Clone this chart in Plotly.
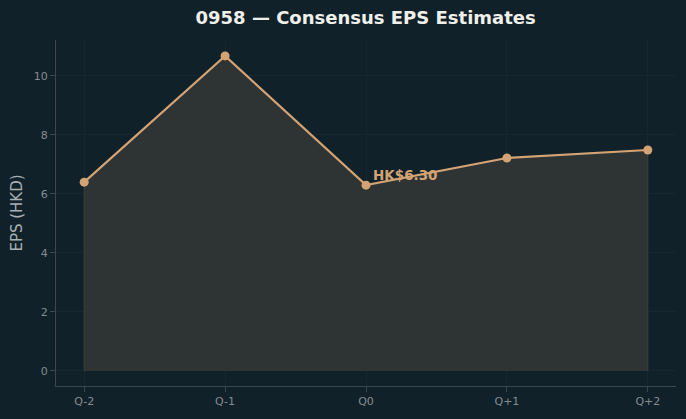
import plotly.graph_objects as go

quarters = ["Q-2", "Q-1", "Q0", "Q+1", "Q+2"]
eps = [6.40, 10.68, 6.30, 7.22, 7.49]
yticks = [0, 2, 4, 6, 8, 10]
highlight_idx = 2

BG = "#10212a"
LINE = "#d4a373"
FILL = "#2e3333"
GRID = "#16272f"
SPINE = "#3b474c"
TICK = "#858d91"

xi = list(range(len(quarters)))
fig = go.Figure()
fig.add_trace(go.Scatter(
    x=[xi[0]] + xi + [xi[-1]], y=[0] + eps + [0],
    fill="toself", fillcolor=FILL, mode="lines",
    line=dict(color="#3c4038", width=1), hoverinfo="skip", showlegend=False))
fig.add_trace(go.Scatter(
    x=xi, y=eps, mode="lines+markers",
    line=dict(color=LINE, width=2.2), marker=dict(color=LINE, size=9),
    showlegend=False))
fig.add_annotation(
    x=xi[highlight_idx], y=eps[highlight_idx],
    text=f"HK${eps[highlight_idx]:.2f}", showarrow=False,
    xanchor="left", yanchor="bottom", xshift=5, yshift=0,
    font=dict(family="DejaVu Sans", size=13.5, color=LINE, weight="bold"))

fig.update_layout(
    width=686, height=419,
    paper_bgcolor=BG, plot_bgcolor=BG,
    margin=dict(l=56, r=10, t=40, b=33),
    title=dict(text="<b>0958 — Consensus EPS Estimates</b>", x=0.533, xanchor="center",
               y=0.957, yanchor="middle",
               font=dict(family="DejaVu Sans", size=18, color="#f0f0ea")),
    font=dict(family="DejaVu Sans", color=TICK),
)
fig.update_xaxes(
    range=[-0.2, 4.2], tickmode="array", tickvals=xi, ticktext=quarters,
    showgrid=True, gridcolor=GRID, gridwidth=1, zeroline=False,
    showline=True, linecolor=SPINE, linewidth=1,
    ticks="outside", ticklen=5, tickcolor=SPINE, tickfont=dict(size=11, color=TICK))
fig.update_yaxes(
    range=[-0.51, 11.22], tickmode="array", tickvals=yticks,
    showgrid=True, gridcolor=GRID, gridwidth=1, zeroline=False,
    showline=True, linecolor=SPINE, linewidth=1,
    ticks="outside", ticklen=5, tickcolor=SPINE, tickfont=dict(size=11, color=TICK),
    title=dict(text="EPS (HKD)", font=dict(size=15, color="#a9b0b3"), standoff=7))

fig.write_html("out.html")
